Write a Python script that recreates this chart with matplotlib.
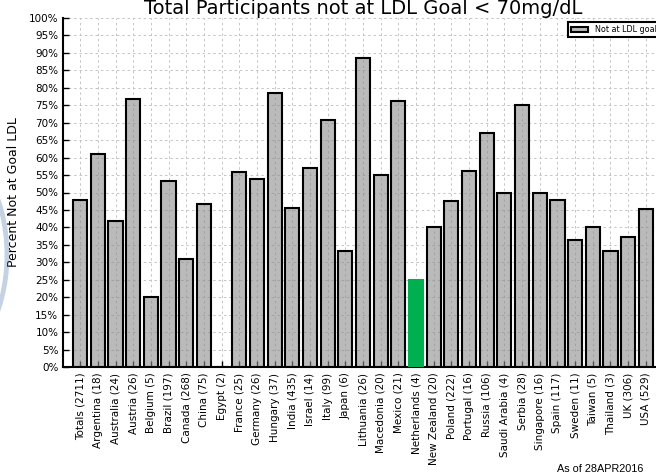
import matplotlib
matplotlib.use("Agg")
import matplotlib.pyplot as plt
from matplotlib.patches import Ellipse
from matplotlib.ticker import FuncFormatter, MultipleLocator

countries = ["Totals (2711)", "Argentina (18)", "Australia (24)", "Austria (26)", "Belgium (5)",
             "Brazil (197)", "Canada (268)", "China (75)", "Egypt (2)", "France (25)",
             "Germany (26)", "Hungary (37)", "India (435)", "Israel (14)", "Italy (99)",
             "Japan (6)", "Lithuania (26)", "Macedonia (20)", "Mexico (21)", "Netherlands (4)",
             "New Zealand (20)", "Poland (222)", "Portugal (16)", "Russia (106)",
             "Saudi Arabia (4)", "Serbia (28)", "Singapore (16)", "Spain (117)",
             "Sweden (11)", "Taiwan (5)", "Thailand (3)", "UK (306)", "USA (529)"]
pct_not_at_goal = [47.8, 61.1, 41.7, 76.9, 20.0, 53.3, 31.0, 46.7, 0.0, 56.0,
                   53.8, 78.4, 45.5, 57.1, 70.7, 33.3, 88.5, 55.0, 76.2, 25.0,
                   40.0, 47.7, 56.25, 67.0, 50.0, 75.0, 50.0, 47.9, 36.4, 40.0,
                   33.3, 37.3, 45.2]
highlight = "Netherlands (4)"

fig = plt.figure(figsize=(6.56, 4.74), dpi=100)
ax = fig.add_axes([62.5 / 656, 1 - 367 / 474, 601 / 656, (367 - 18) / 474])

x = list(range(len(countries)))
gray = (0.55, 0.55, 0.55, 0.6)
bars = ax.bar(x, pct_not_at_goal, width=0.8, color=gray, edgecolor="black",
              linewidth=1.5, label="Not at LDL goal", zorder=3)
for b, c in zip(bars, countries):
    if c == highlight:
        b.set_facecolor("#00b050")
        b.set_edgecolor("#00b050")
        b.set_zorder(4)

ax.set_xlim(-1, len(countries))
ax.set_ylim(0, 100)
ax.yaxis.set_major_locator(MultipleLocator(5))
ax.yaxis.set_major_formatter(FuncFormatter(lambda v, p: f"{int(round(v))}%"))
ax.set_xticks(x)
ax.set_xticklabels(countries, rotation=90)
ax.tick_params(axis="both", direction="in", labelsize=7.5, length=4, width=1, colors="black")
ax.tick_params(axis="x", pad=4)
ax.tick_params(axis="y", pad=3)
ax.grid(True, color="#c4c4c4", linestyle=(0, (2.5, 3)), linewidth=0.7, zorder=1)
ax.set_axisbelow(True)
for s in ["top", "right"]:
    ax.spines[s].set_visible(False)
for s in ["left", "bottom"]:
    ax.spines[s].set_linewidth(1.5)

ax.set_title("Total Participants not at LDL Goal < 70mg/dL", fontsize=14, pad=1)
ax.set_ylabel("Percent Not at Goal LDL", fontsize=9)
ax.yaxis.set_label_coords(-(62.5 - 20) / 601, 0.5)

leg = ax.legend(loc="upper left", bbox_to_anchor=(568 / 656, 1 - 22 / 474),
                bbox_transform=fig.transFigure, fontsize=5.8, fancybox=False,
                framealpha=1, edgecolor="black", handlelength=2.1, handleheight=0.7,
                borderpad=0.4, borderaxespad=0)
leg.get_frame().set_linewidth(1.5)
leg.legend_handles[0].set_facecolor((0.72, 0.72, 0.72))

fig.text(643 / 656, 1 - 469 / 474, "As of 28APR2016", ha="right", va="center",
         fontsize=7.8, family="Liberation Sans")

arc = Ellipse((-66 / 656, 1 - 255 / 474), 146 / 656, 230 / 474, transform=fig.transFigure,
              facecolor="none", edgecolor="#5b7fae", linewidth=3.5, alpha=0.35, clip_on=False)
fig.patches.append(arc)

fig.savefig("out.png", dpi=100)
